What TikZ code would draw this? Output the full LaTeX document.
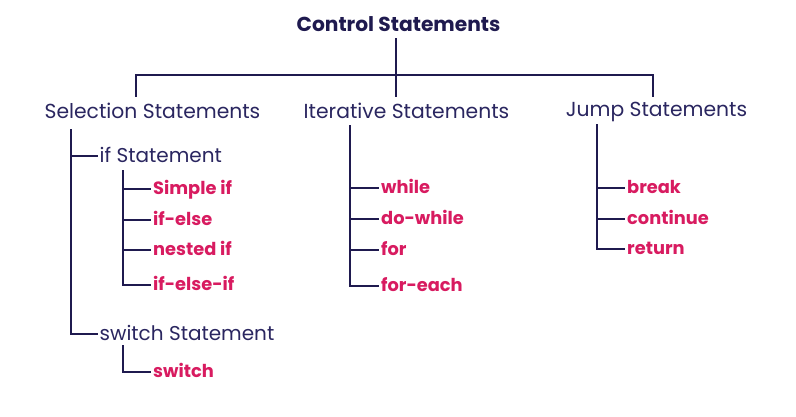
\documentclass[tikz,border=0pt]{standalone}
\usepackage{fontspec}
\setmainfont{Poppins}
\definecolor{navy}{HTML}{1F1A4F}
\definecolor{navytext}{HTML}{2A2660}
\definecolor{pinkc}{HTML}{D81B60}
\begin{document}
\begin{tikzpicture}[x=1pt,y=-1pt,
  conn/.style={draw=navy,line width=2.2pt,line cap=rect},
  titlebox/.style={inner sep=0pt,anchor=base,font=\fontsize{20.2}{24}\selectfont\bfseries,text=navy},
  groupbox/.style={inner sep=0pt,anchor=base,font=\fontsize{20.3}{24}\selectfont,text=navytext},
  subbox/.style={inner xsep=2.5pt,inner ysep=0pt,anchor=west,text height=13pt,text depth=0pt,font=\fontsize{20}{24}\selectfont,text=navytext},
  leafbox/.style={inner xsep=3pt,inner ysep=0pt,anchor=west,text height=11pt,text depth=0pt,font=\fontsize{17.8}{21}\selectfont\bfseries,text=pinkc}]
\useasboundingbox (0,0) rectangle (796,417);
\fill[white] (0,0) rectangle (796,417);
% title and top level
\node[titlebox] (title) at (398.5,32) {Control Statements};
\node[groupbox] (sel) at (152.5,118.5) {Selection Statements};
\node[groupbox] (iter) at (406.5,118.5) {Iterative Statements};
\node[groupbox] (jump) at (656.5,117) {Jump Statements};
\coordinate (tTop) at (396,39);
\coordinate (tBot) at (396,96);
\coordinate (selUp) at (136,96);
\coordinate (jumpUp) at (653,96);
\coordinate (bar) at (396,75);
\draw[conn] (tTop) -- (tBot);
\draw[conn] (selUp) -- (selUp |- bar) -- (jumpUp |- bar) -- (jumpUp);
% selection subtree
\node[subbox] (ifs) at (97,156) {if Statement};
\node[subbox] (sws) at (97,334) {switch Statement};
\coordinate (selTop) at (71,130);
\draw[conn] (selTop) |- (ifs.west);
\draw[conn] (selTop) |- (sws.west);
\node[leafbox] (simple) at (150,189) {Simple if};
\node[leafbox] (ifelse) at (150,220) {if-else};
\node[leafbox] (nested) at (150,250) {nested if};
\node[leafbox] (elseif) at (150,285) {if-else-if};
\coordinate (ifTop) at (123,171);
\foreach \n in {simple,ifelse,nested,elseif} \draw[conn] (ifTop) |- (\n.west);
\node[leafbox] (switch) at (150,372) {switch};
\coordinate (swTop) at (123,346);
\draw[conn] (swTop) |- (switch.west);
% iterative subtree
\node[leafbox] (while) at (378,188) {while};
\node[leafbox] (dowhile) at (378,219) {do-while};
\node[leafbox] (for) at (378,250) {for};
\node[leafbox] (foreach) at (378,286) {for-each};
\coordinate (itTop) at (350,126);
\foreach \n in {while,dowhile,for,foreach} \draw[conn] (itTop) |- (\n.west);
% jump subtree
\node[leafbox] (break) at (624,188) {break};
\node[leafbox] (continue) at (624,219) {continue};
\node[leafbox] (return) at (624,249) {return};
\coordinate (jTop) at (597,125);
\foreach \n in {break,continue,return} \draw[conn] (jTop) |- (\n.west);
\end{tikzpicture}
\end{document}
